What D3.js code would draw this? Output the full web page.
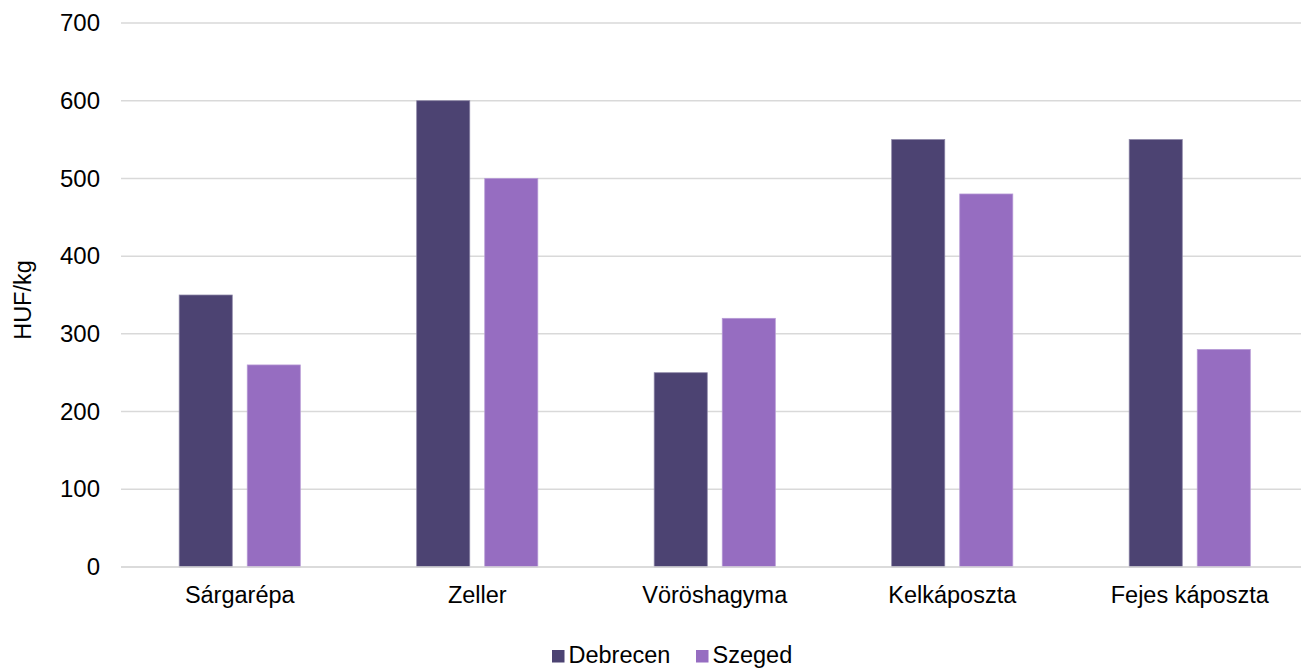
<!DOCTYPE html>
<html>
<head>
<meta charset="utf-8">
<script src="https://cdn.jsdelivr.net/npm/d3@7"></script>
<style>
body{margin:0;background:#fff;}
text{font-family:"Liberation Sans",Arial,sans-serif;fill:#000;}
</style>
</head>
<body>
<svg id="chart" width="1301" height="668"></svg>
<script>
const categories = ["Sárgarépa","Zeller","Vöröshagyma","Kelkáposzta","Fejes káposzta"];
const seriesNames = ["Debrecen","Szeged"];
const debrecen = [350,600,250,550,550];
const szeged = [260,500,320,480,280];
const yTicks = [0,100,200,300,400,500,600,700];
const colors = ["#4C4372","#966DC1"];
const strokeColors = ["#8a84a6","#b79ad6"];

(function(){
const svg = d3.select("#chart");
const mLeft = 121, mRight = 1308.5, mTop = 23, mBottom = 567;
const FS = 23.5;

const x0 = d3.scaleBand().domain(categories).range([mLeft, mRight]).padding(0);
const x1 = d3.scaleBand().domain(seriesNames)
  .range([x0.bandwidth()*0.245, x0.bandwidth()*0.755]).paddingInner(0.22).paddingOuter(0);
const y = d3.scaleLinear().domain([0,700]).range([mBottom, mTop]);

// gridlines
svg.append("g").selectAll("line").data(yTicks).join("line")
  .attr("x1", mLeft).attr("x2", 1301)
  .attr("y1", d=>y(d)).attr("y2", d=>y(d))
  .attr("stroke", "#d9d9d9").attr("stroke-width", 1.5);

// y tick labels
const yAxis = d3.axisLeft(y).tickValues(yTicks).tickSize(0).tickPadding(0);
const ya = svg.append("g").attr("transform", `translate(100,0)`).call(yAxis);
ya.select(".domain").remove();
ya.selectAll("text").attr("font-size", 24).attr("font-family", "Liberation Sans, Arial, sans-serif").attr("fill","#000");

// bars
const values = [debrecen, szeged];
const groups = svg.append("g").selectAll("g").data(categories).join("g")
  .attr("transform", d=>`translate(${x0(d)},0)`);
groups.selectAll("rect").data((d,i)=>seriesNames.map((s,j)=>({s, j, v: values[j][i]})))
  .join("rect")
  .attr("x", d=>x1(d.s))
  .attr("width", x1.bandwidth())
  .attr("y", d=>y(d.v))
  .attr("height", d=>y(0)-y(d.v))
  .attr("fill", d=>colors[d.j])
  .attr("stroke", d=>strokeColors[d.j])
  .attr("stroke-width", 0.75);

// x axis line
svg.append("line").attr("x1", mLeft).attr("x2", 1301).attr("y1", y(0)).attr("y2", y(0))
  .attr("stroke", "#d9d9d9").attr("stroke-width", 1.5);

// x labels
const xAxis = d3.axisBottom(x0).tickSize(0).tickPadding(0);
const xa = svg.append("g").attr("transform", `translate(0,0)`).call(xAxis);
xa.select(".domain").remove();
xa.selectAll("text").attr("font-size", FS).attr("y", 603).attr("dy", null)
  .attr("font-family", "Liberation Sans, Arial, sans-serif").attr("fill","#000");

// y title
svg.append("text").attr("transform", `translate(31,${(mTop+mBottom)/2 + 5}) rotate(-90)`)
  .attr("text-anchor","middle").attr("font-size", FS).text("HUF/kg");

// legend
const legend = [{name:"Debrecen", x:552},{name:"Szeged", x:696}];
const lg = svg.append("g");
legend.forEach((l,i)=>{
  lg.append("rect").attr("x", l.x).attr("y", 650).attr("width", 12.5).attr("height", 12.5).attr("fill", colors[i]);
  lg.append("text").attr("x", l.x+16.5).attr("y", 663).attr("font-size", FS).text(l.name);
});
})();
</script>
</body>
</html>
